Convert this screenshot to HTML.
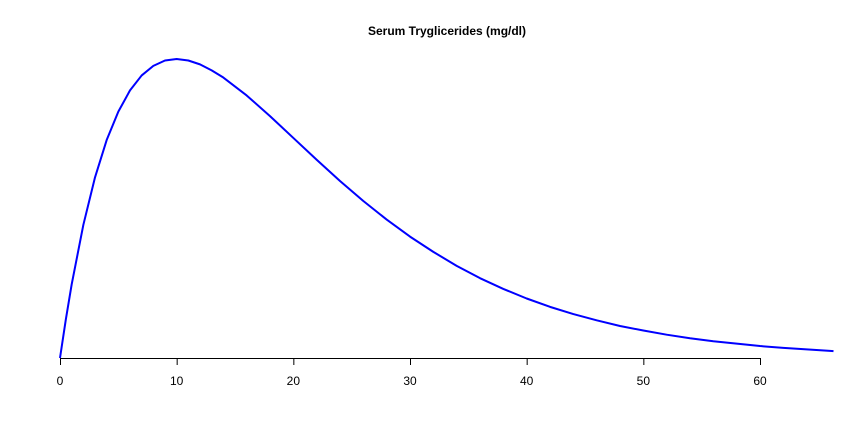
<!DOCTYPE html>
<html><head><meta charset="utf-8"><style>
body{margin:0;background:#fff}
svg{display:block;font-family:"Liberation Sans",Arial,sans-serif}
</style></head><body>
<svg id="chart" width="864" height="432" viewBox="0 0 864 432">
<text x="447" y="35" text-anchor="middle" font-size="12" font-weight="bold">Serum Tryglicerides (mg/dl)</text>
<g id="axis"></g>
<polyline id="curve" fill="none" stroke="#0000ff" stroke-width="2" stroke-linejoin="round"/>
</svg>
<script>
const xTicks=[0,10,20,30,40,50,60];
const xValues=[0,0.5,1,2,3,4,5,6,7,8,9,10,11,12,13,14,16,18,20,22,24,26,28,30,32,34,36,38,40,42,44,46,48,50,52,54,56,58,60,62,64,66,66.3];
const densityValues=[0,0.129,0.246,0.445,0.604,0.729,0.824,0.895,0.945,0.977,0.995,1,0.995,0.982,0.962,0.938,0.878,0.809,0.736,0.663,0.592,0.525,0.463,0.406,0.355,0.308,0.267,0.231,0.199,0.171,0.147,0.126,0.107,0.092,0.078,0.066,0.056,0.048,0.040,0.034,0.029,0.024,0.023];
const NS="http://www.w3.org/2000/svg";
const sx=v=>60+v*(700/60);
const sy=v=>358-v*299;
const axis=document.getElementById('axis');
const line=document.createElementNS(NS,'line');


line.setAttribute('x1',sx(xTicks[0]));line.setAttribute('x2',sx(xTicks[xTicks.length-1]));
line.setAttribute('y1',358.5);line.setAttribute('y2',358.5);line.setAttribute('stroke','#000');
axis.appendChild(line);
xTicks.forEach(t=>{
 const tk=document.createElementNS(NS,'line');
 
 
 tk.setAttribute('x1',sx(t)+0.5);tk.setAttribute('x2',sx(t)+0.5);
 tk.setAttribute('y1',358);tk.setAttribute('y2',365);tk.setAttribute('stroke','#000');
 axis.appendChild(tk);
 const lb=document.createElementNS(NS,'text');
 
 
 lb.setAttribute('x',sx(t));lb.setAttribute('y',385);
 lb.setAttribute('text-anchor','middle');lb.setAttribute('font-size','12');
 lb.textContent=t;
 axis.appendChild(lb);
});
document.getElementById('curve').setAttribute('points',xValues.map((x,i)=>sx(x)+','+sy(densityValues[i])).join(' '));
</script>
</body></html>
